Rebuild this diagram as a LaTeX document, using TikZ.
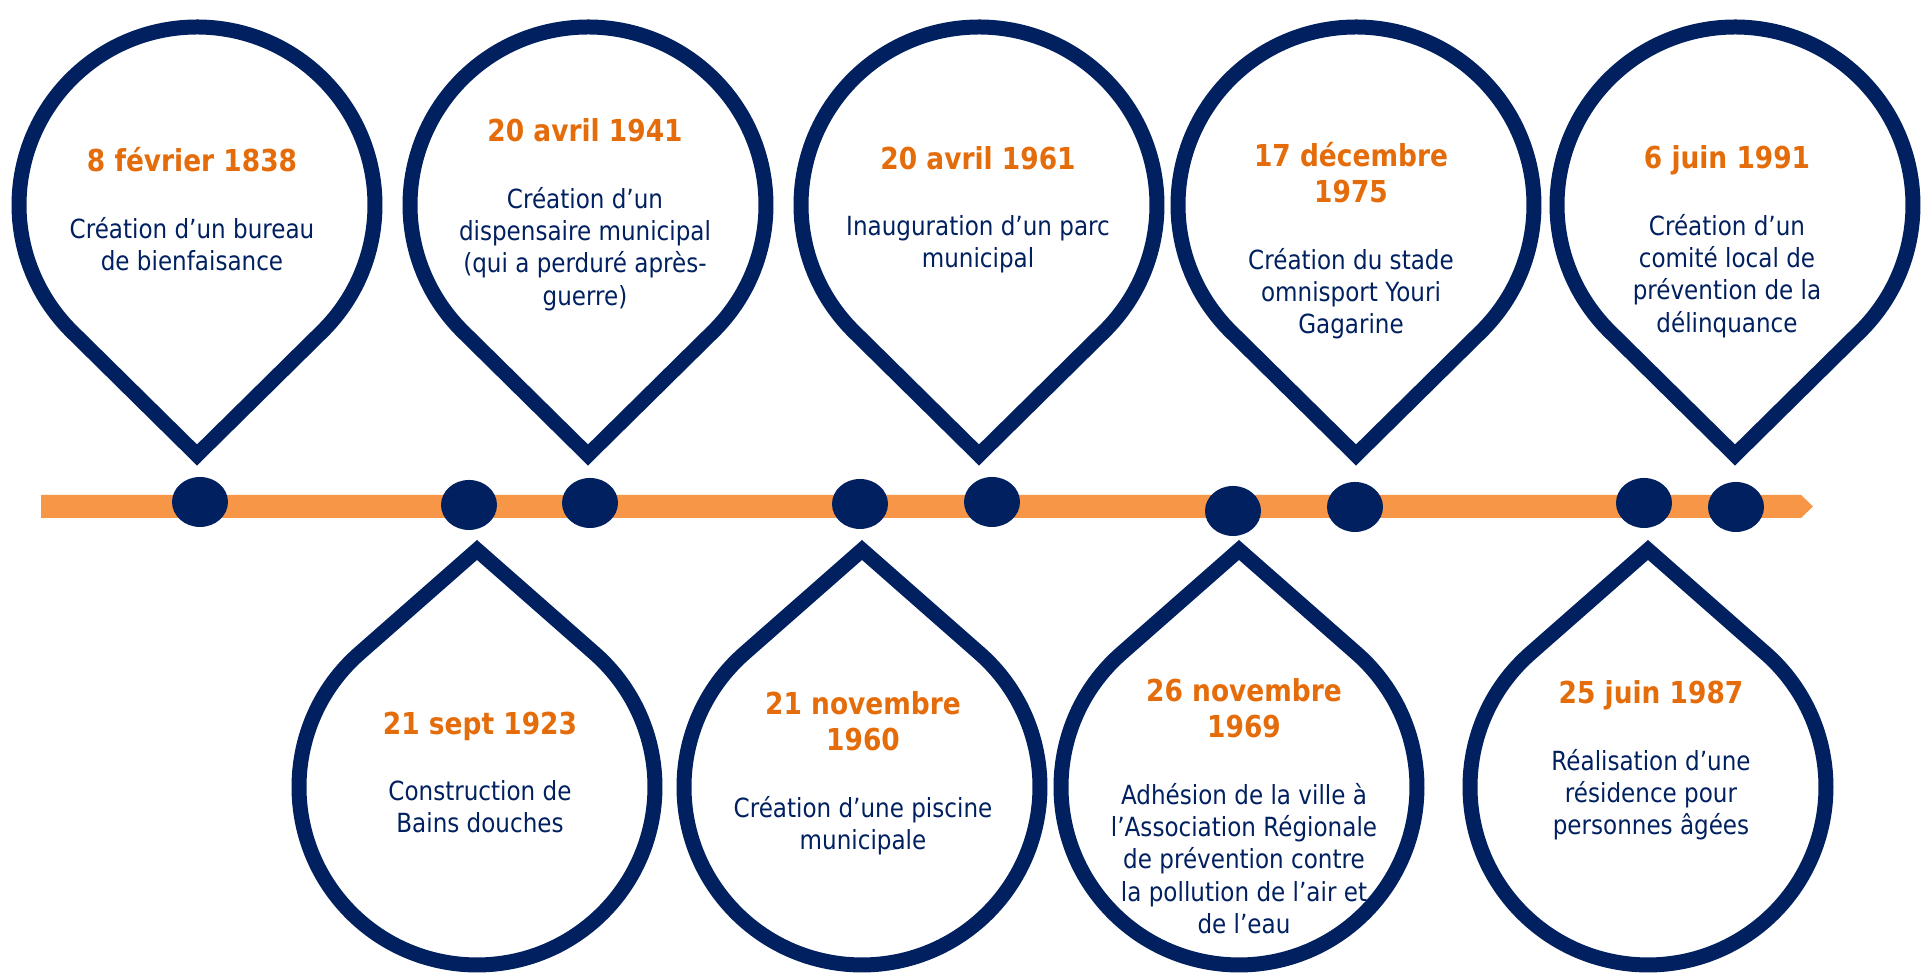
\documentclass[tikz,border=0pt]{standalone}
\usepackage{fontspec}
\setmainfont{DejaVu Sans}[FakeStretch=0.875]
\usetikzlibrary{positioning}
\definecolor{navy}{HTML}{002060}
\definecolor{barorange}{HTML}{F79646}
\definecolor{dateorange}{HTML}{E46C0A}
\tikzset{
  pin/.style={draw=navy, line width=1.5mm},
  date/.style={text=dateorange, font=\fontsize{8.6}{10.4}\selectfont\bfseries, align=center, inner sep=0pt, anchor=north, execute at begin node=\strut, execute at end node=\strut},
  event/.style={text=navy, font=\fontsize{7.5}{9.2}\selectfont, align=center, inner sep=0pt, execute at begin node=\strut, execute at end node=\strut},
}
\begin{document}
\begin{tikzpicture}[x=0.1mm, y=0.1mm]
			\useasboundingbox[fill=white] (0,0) rectangle (1928,976);

			% time line
			\path[fill=barorange] (41,458) -- (1801,458) -- (1813,469.5) -- (1801,481) -- (41,481) -- cycle;

			% pins above
			\draw[pin] (197,521) -- ([shift={(-45.4:178)}]197,771) arc[start angle=-45.4, end angle=225.4, radius=178] -- cycle;
			\draw[pin] (588,521) -- ([shift={(-45.4:178)}]588,771) arc[start angle=-45.4, end angle=225.4, radius=178] -- cycle;
			\draw[pin] (979,521) -- ([shift={(-45.4:178)}]979,771) arc[start angle=-45.4, end angle=225.4, radius=178] -- cycle;
			\draw[pin] (1356,521) -- ([shift={(-45.4:178)}]1356,771) arc[start angle=-45.4, end angle=225.4, radius=178] -- cycle;
			\draw[pin] (1735,521) -- ([shift={(-45.4:178)}]1735,771) arc[start angle=-45.4, end angle=225.4, radius=178] -- cycle;

			% pins below
			\draw[pin] (477,426) -- ([shift={(131.3:178)}]477,189) arc[start angle=131.3, end angle=408.7, radius=178] -- cycle;
			\draw[pin] (862,426) -- ([shift={(131.3:178)}]862,189) arc[start angle=131.3, end angle=408.7, radius=178] -- cycle;
			\draw[pin] (1239,426) -- ([shift={(131.3:178)}]1239,189) arc[start angle=131.3, end angle=408.7, radius=178] -- cycle;
			\draw[pin] (1648,426) -- ([shift={(131.3:178)}]1648,189) arc[start angle=131.3, end angle=408.7, radius=178] -- cycle;

			% dots on the line
			\path[fill=navy] (200,474) ellipse [x radius=28, y radius=25];
			\path[fill=navy] (469,471) ellipse [x radius=28, y radius=25];
			\path[fill=navy] (590,473) ellipse [x radius=28, y radius=25];
			\path[fill=navy] (860,472) ellipse [x radius=28, y radius=25];
			\path[fill=navy] (992,474) ellipse [x radius=28, y radius=25];
			\path[fill=navy] (1233,465) ellipse [x radius=28, y radius=25];
			\path[fill=navy] (1355,469) ellipse [x radius=28, y radius=25];
			\path[fill=navy] (1644,473) ellipse [x radius=28, y radius=25];
			\path[fill=navy] (1736,469) ellipse [x radius=28, y radius=25];

			% dates and events
			\node[date] (d1838) at (192,830.6) {8 février 1838};
			\node[event, below=3.3mm of d1838] (e1838) {Création d’un bureau\\de bienfaisance};
			\node[date] (d1941) at (585,860.6) {20 avril 1941};
			\node[event, below=3.3mm of d1941] (e1941) {Création d’un\\dispensaire municipal\\(qui a perduré après-\\guerre)};
			\node[date] (d1961) at (978,832.6) {20 avril 1961};
			\node[event, below=3.3mm of d1961] (e1961) {Inauguration d’un parc\\municipal};
			\node[date] (d1975) at (1351,834.6) {17 décembre\\1975};
			\node[event, below=3.3mm of d1975] (e1975) {Création du stade\\omnisport Youri\\Gagarine};
			\node[date] (d1991) at (1727,833.6) {6 juin 1991};
			\node[event, below=3.3mm of d1991] (e1991) {Création d’un\\comité local de\\prévention de la\\délinquance};

			\node[date] (d1923) at (480,267.6) {21 sept 1923};
			\node[event, below=3.3mm of d1923] (e1923) {Construction de\\Bains douches};
			\node[date] (d1960) at (863,285.6) {21 novembre\\1960};
			\node[event, below=3.3mm of d1960] (e1960) {Création d’une piscine\\municipale};
			\node[date] (d1969) at (1244,298.6) {26 novembre\\1969};
			\node[event, below=3.3mm of d1969] (e1969) {Adhésion de la ville à\\l’Association Régionale\\de prévention contre\\la pollution de l’air et\\de l’eau};
			\node[date] (d1987) at (1651,298.6) {25 juin 1987};
			\node[event, below=3.3mm of d1987] (e1987) {Réalisation d’une\\résidence pour\\personnes âgées};
		\end{tikzpicture}
\end{document}
